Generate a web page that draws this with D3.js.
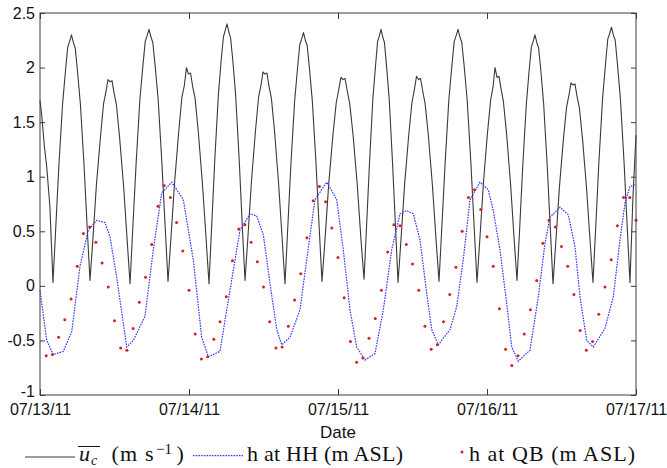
<!DOCTYPE html>
<html>
<head>
<meta charset="utf-8">
<script src="https://cdn.jsdelivr.net/npm/d3@7"></script>
<style>
  body { margin: 0; background: #fff; }
  svg { display: block; }
</style>
</head>
<body>
<svg id="chart" width="667" height="468"></svg>
<script>

// x ticks (hours since 07/13/11 00:00)
const xTickHours = [0, 24, 48, 72, 96];
const xTickLabels = ["07/13/11", "07/14/11", "07/15/11", "07/16/11", "07/17/11"];
const yTicks = [-1, -0.5, 0, 0.5, 1, 1.5, 2, 2.5];
const yTickLabels = ["-1", "-0.5", "0", "0.5", "1", "1.5", "2", "2.5"];

// mean current speed u_c (m/s)
const ucHours = [
  0, 0.3, 0.7, 1.1, 1.6, 2.09,
  2.51, 3.04, 3.64, 4.12, 4.47, 4.77, 5.07, 5.37, 5.67, 6.02, 6.50, 7.10, 7.63, 8.05,
  8.50, 9.08, 9.73, 10.24, 10.63, 10.95, 11.28, 11.60, 11.92, 12.31, 12.82, 13.47, 14.05, 14.50,
  14.93, 15.48, 16.09, 16.58, 16.95, 17.25, 17.56, 17.87, 18.17, 18.54, 19.03, 19.64, 20.19, 20.62,
  21.08, 21.68, 22.34, 22.86, 23.26, 23.59, 23.92, 24.25, 24.58, 24.98, 25.50, 26.16, 26.76, 27.22,
  27.63, 28.15, 28.73, 29.19, 29.54, 29.83, 30.12, 30.41, 30.70, 31.05, 31.51, 32.09, 32.61, 33.02,
  33.47, 34.05, 34.69, 35.21, 35.60, 35.92, 36.24, 36.56, 36.88, 37.27, 37.79, 38.43, 39.01, 39.46,
  39.88, 40.41, 41.01, 41.49, 41.84, 42.14, 42.44, 42.74, 43.04, 43.39, 43.87, 44.47, 45.00, 45.42,
  45.89, 46.50, 47.18, 47.72, 48.13, 48.47, 48.81, 49.14, 49.48, 49.89, 50.43, 51.11, 51.72, 52.19,
  52.57, 53.07, 53.61, 54.05, 54.38, 54.66, 54.93, 55.20, 55.48, 55.81, 56.25, 56.79, 57.29, 57.67,
  58.13, 58.73, 59.39, 59.91, 60.31, 60.64, 60.97, 61.30, 61.63, 62.03, 62.55, 63.21, 63.81, 64.27,
  64.70, 65.25, 65.86, 66.35, 66.72, 67.02, 67.33, 67.64, 67.94, 68.31, 68.80, 69.41, 69.96, 70.39,
  70.84, 71.42, 72.06, 72.58, 72.97, 73.29, 73.61, 73.93, 74.25, 74.64, 75.16, 75.80, 76.38, 76.83,
  77.24, 77.76, 78.34, 78.80, 79.15, 79.44, 79.73, 80.02, 80.31, 80.66, 81.12, 81.70, 82.22, 82.63,
  83.08, 83.66, 84.30, 84.82, 85.21, 85.53, 85.85, 86.17, 86.49, 86.88, 87.40, 88.04, 88.62, 89.07,
  89.49, 90.02, 90.62, 91.10, 91.45, 91.75, 92.05, 92.35, 92.65, 93.00, 93.48, 94.08, 94.61, 95.03,
  95.5, 96
];
const ucValues = [
  1.70, 1.55, 1.28, 1.08, 0.72, 0.03,
  0.50, 1.10, 1.67, 1.98, 2.19, 2.24, 2.30, 2.23, 2.18, 1.98, 1.67, 1.10, 0.50, 0.05,
  0.41, 0.92, 1.36, 1.67, 1.78, 1.89, 1.87, 1.88, 1.77, 1.66, 1.36, 0.91, 0.41, 0.02,
  0.51, 1.12, 1.71, 2.02, 2.24, 2.29, 2.35, 2.28, 2.23, 2.02, 1.71, 1.12, 0.51, 0.04,
  0.43, 0.95, 1.41, 1.73, 1.84, 2.00, 1.94, 1.95, 1.83, 1.72, 1.41, 0.94, 0.43, 0.02,
  0.52, 1.15, 1.75, 2.07, 2.28, 2.34, 2.40, 2.33, 2.27, 2.07, 1.75, 1.15, 0.52, 0.05,
  0.43, 0.95, 1.41, 1.73, 1.84, 1.96, 1.94, 1.95, 1.83, 1.72, 1.41, 0.94, 0.43, 0.02,
  0.50, 1.11, 1.69, 2.00, 2.21, 2.26, 2.32, 2.25, 2.20, 2.00, 1.69, 1.11, 0.50, 0.04,
  0.41, 0.93, 1.38, 1.68, 1.80, 1.91, 1.89, 1.90, 1.79, 1.67, 1.38, 0.92, 0.41, 0.06,
  0.51, 1.12, 1.71, 2.02, 2.24, 2.29, 2.35, 2.28, 2.23, 2.02, 1.71, 1.12, 0.51, 0.03,
  0.41, 0.93, 1.38, 1.68, 1.80, 1.92, 1.89, 1.90, 1.79, 1.67, 1.38, 0.92, 0.41, 0.04,
  0.51, 1.12, 1.71, 2.02, 2.24, 2.29, 2.35, 2.28, 2.23, 2.02, 1.71, 1.12, 0.51, 0.03,
  0.42, 0.94, 1.39, 1.70, 1.82, 2.00, 1.91, 1.92, 1.81, 1.69, 1.39, 0.93, 0.42, 0.05,
  0.50, 1.10, 1.67, 1.98, 2.19, 2.24, 2.30, 2.23, 2.18, 1.98, 1.67, 1.10, 0.50, 0.02,
  0.40, 0.90, 1.34, 1.64, 1.75, 1.86, 1.84, 1.85, 1.74, 1.63, 1.34, 0.89, 0.40, 0.03,
  0.51, 1.13, 1.72, 2.04, 2.26, 2.31, 2.37, 2.30, 2.25, 2.04, 1.72, 1.13, 0.51, 0.03,
  0.80, 1.38
];

// water level at HH (m ASL)
const hhHours = [
  0.00, 1.08, 2.14, 3.75, 5.11, 6.44, 7.78, 9.13, 10.47, 11.27, 12.35, 13.97, 15.03, 16.91,
  18.25, 19.60, 21.21, 23.08, 24.69, 26.04, 27.11, 28.99, 30.60, 32.21, 33.83, 34.90, 35.97,
  37.05, 38.13, 38.93, 40.27, 41.88, 42.96, 44.29, 46.18, 47.79, 48.85, 49.93, 51.01, 52.35,
  53.96, 55.30, 56.65, 57.99, 59.06, 60.13, 61.21, 62.29, 63.09, 64.15, 66.04, 67.12, 68.18,
  69.26, 70.87, 72.21, 73.01, 74.09, 75.17, 75.98, 77.04, 78.92, 80.26, 81.34, 82.15, 83.76,
  85.10, 86.17, 86.98, 88.06, 89.12, 91.00, 92.34, 93.42, 94.23, 95.03, 96.00
];
const hhValues = [
  -0.04, -0.50, -0.63, -0.60, -0.42, 0.18, 0.51, 0.60, 0.58, 0.45, 0.08, -0.56, -0.50, -0.28,
  0.33, 0.85, 0.95, 0.79, 0.24, -0.47, -0.65, -0.60, -0.04, 0.51, 0.66, 0.64, 0.47,
  0.02, -0.40, -0.54, -0.47, -0.22, 0.24, 0.79, 0.95, 0.79, 0.33, -0.22, -0.56, -0.68,
  -0.62, -0.22, 0.33, 0.66, 0.69, 0.66, 0.42, -0.07, -0.40, -0.54, -0.40, -0.19, 0.24,
  0.79, 0.95, 0.88, 0.69, 0.33, -0.16, -0.56, -0.69, -0.59, -0.10, 0.39, 0.63, 0.72,
  0.65, 0.36, -0.10, -0.50, -0.56, -0.39, -0.10, 0.42, 0.76, 0.91, 0.93
];

// water level at QB (m ASL), hourly
const qbHours = [
  1, 2, 3, 4, 5, 6, 7, 8, 9, 10, 11, 12, 13, 14, 15, 16, 17, 18, 19, 20, 21, 22, 23, 24,
  25, 26, 27, 28, 29, 30, 31, 32, 33, 34, 35, 36, 37, 38, 39, 40, 41, 42, 43, 44, 45, 46, 47, 48,
  49, 50, 51, 52, 53, 54, 55, 56, 57, 58, 59, 60, 61, 62, 63, 64, 65, 66, 67, 68, 69, 70, 71, 72,
  73, 74, 75, 76, 77, 78, 79, 80, 81, 82, 83, 84, 85, 86, 87, 88, 89, 90, 91, 92, 93, 94, 95, 96
];
const qbValues = [
  -0.64, -0.63, -0.47, -0.31, -0.12, 0.18, 0.48, 0.54, 0.40, 0.21, -0.01, -0.32,
  -0.57, -0.59, -0.39, -0.15, 0.08, 0.38, 0.73, 0.92, 0.81, 0.58, 0.32, -0.04,
  -0.44, -0.67, -0.65, -0.49, -0.33, -0.10, 0.23, 0.52, 0.56, 0.40, 0.22, -0.01,
  -0.33, -0.57, -0.56, -0.37, -0.13, 0.11, 0.44, 0.78, 0.91, 0.77, 0.53, 0.26,
  -0.11, -0.51, -0.70, -0.66, -0.48, -0.30, -0.04, 0.31, 0.56, 0.55, 0.38, 0.20,
  -0.04, -0.37, -0.58, -0.54, -0.33, -0.08, 0.17, 0.50, 0.81, 0.88, 0.70, 0.45,
  0.18, -0.21, -0.58, -0.73, -0.64, -0.44, -0.22, 0.05, 0.39, 0.60, 0.54, 0.36,
  0.18, -0.08, -0.41, -0.59, -0.51, -0.26, -0.01, 0.24, 0.55, 0.81, 0.81, 0.60
];

const svg = d3.select("#chart");
const plotLeft = 40, plotRight = 636, plotTop = 13, plotBottom = 395;

const x = d3.scaleLinear().domain([0, 96]).range([plotLeft, plotRight]);
const y = d3.scaleLinear().domain([-1, 2.5]).range([plotBottom, plotTop]);

const tickFont = "'Liberation Sans', Arial, sans-serif";
const serif = "'Liberation Serif', 'Times New Roman', serif";
const frameColor = "#3c3c3c";

const ucData = ucHours.map((h, i) => ({x: h, y: ucValues[i]}));
const hhData = hhHours.map((h, i) => ({x: h, y: hhValues[i]}));
const qbData = qbHours.map((h, i) => ({x: h, y: qbValues[i]}));

const line = d3.line()
  .x(d => x(d.x))
  .y(d => y(d.y));

svg.append("path")
  .datum(ucData)
  .attr("d", line)
  .attr("fill", "none")
  .attr("stroke", "#3a3a3a")
  .attr("stroke-width", 1.1)
  .attr("stroke-linejoin", "round");

svg.append("path")
  .datum(hhData)
  .attr("d", line)
  .attr("fill", "none")
  .attr("stroke", "#3535ff")
  .attr("stroke-width", 1.2)
  .attr("stroke-dasharray", "1.6,1.1");

svg.selectAll("circle.qb")
  .data(qbData)
  .enter().append("circle")
  .attr("class", "qb")
  .attr("cx", d => x(d.x))
  .attr("cy", d => y(d.y))
  .attr("r", 1.5)
  .attr("fill", "#d42222");

// axes, ticks pointing inward on all four sides
const xAxis = svg.append("g")
  .attr("transform", "translate(0," + plotBottom + ")")
  .call(d3.axisBottom(x).tickValues(xTickHours).tickSize(-6).tickPadding(9)
    .tickFormat((d, i) => xTickLabels[i]));

const xAxisTop = svg.append("g")
  .attr("transform", "translate(0," + plotTop + ")")
  .call(d3.axisTop(x).tickValues(xTickHours).tickSize(-6).tickFormat(""));

const yAxis = svg.append("g")
  .attr("transform", "translate(" + plotLeft + ",0)")
  .call(d3.axisLeft(y).tickValues(yTicks).tickSize(-5).tickPadding(5)
    .tickFormat((d, i) => yTickLabels[i]));

const yAxisRight = svg.append("g")
  .attr("transform", "translate(" + plotRight + ",0)")
  .call(d3.axisRight(y).tickValues(yTicks).tickSize(-5).tickFormat(""));

[xAxis, xAxisTop, yAxis, yAxisRight].forEach(g => {
  g.select(".domain").remove();
  g.selectAll("line").attr("stroke", frameColor);
  g.selectAll("text")
    .attr("font-family", tickFont)
    .attr("font-size", 16)
    .attr("fill", "#111");
});

// the lowest y label sits a little higher, clear of the first date
yAxis.selectAll(".tick text").filter(d => d === -1).attr("dy", "0.1em");

svg.append("rect")
  .attr("x", plotLeft).attr("y", plotTop)
  .attr("width", plotRight - plotLeft).attr("height", plotBottom - plotTop)
  .attr("fill", "none")
  .attr("stroke", frameColor)
  .attr("stroke-width", 1);

svg.append("text")
  .attr("x", 338).attr("y", 438)
  .attr("text-anchor", "middle")
  .attr("font-family", tickFont)
  .attr("font-size", 17)
  .attr("fill", "#111")
  .text("Date");

// legend
const legend = svg.append("g").attr("fill", "#111").attr("font-family", serif);

legend.append("line")
  .attr("x1", 25).attr("x2", 75).attr("y1", 457).attr("y2", 457)
  .attr("stroke", "#3a3a3a").attr("stroke-width", 1.1);
legend.append("line")
  .attr("x1", 78).attr("x2", 100).attr("y1", 446.5).attr("y2", 446.5)
  .attr("stroke", "#111").attr("stroke-width", 1);
legend.append("text")
  .attr("x", 79).attr("y", 461)
  .attr("font-size", 22).attr("font-style", "italic")
  .text("u");
legend.append("text")
  .attr("x", 91).attr("y", 465)
  .attr("font-size", 14).attr("font-style", "italic")
  .text("c");
legend.append("text")
  .attr("x", 111.5).attr("y", 461)
  .attr("font-size", 22)
  .attr("textLength", 42).attr("lengthAdjust", "spacing")
  .text("(m s");
legend.append("text")
  .attr("x", 156).attr("y", 454)
  .attr("font-size", 15)
  .text("\u22121");
legend.append("text")
  .attr("x", 176.5).attr("y", 461)
  .attr("font-size", 22)
  .text(")");

legend.append("line")
  .attr("x1", 193).attr("x2", 243).attr("y1", 455.7).attr("y2", 455.7)
  .attr("stroke", "#3535ff").attr("stroke-width", 1.2)
  .attr("stroke-dasharray", "1.6,1.1");
legend.append("text")
  .attr("x", 247).attr("y", 461)
  .attr("font-size", 22)
  .attr("textLength", 156).attr("lengthAdjust", "spacing")
  .text("h at HH (m ASL)");

legend.append("circle")
  .attr("cx", 462).attr("cy", 452).attr("r", 1.5)
  .attr("fill", "#d42222");
legend.append("text")
  .attr("x", 469).attr("y", 461)
  .attr("font-size", 22)
  .attr("textLength", 166).attr("lengthAdjust", "spacing")
  .text("h at QB (m ASL)");

</script>
</body>
</html>
